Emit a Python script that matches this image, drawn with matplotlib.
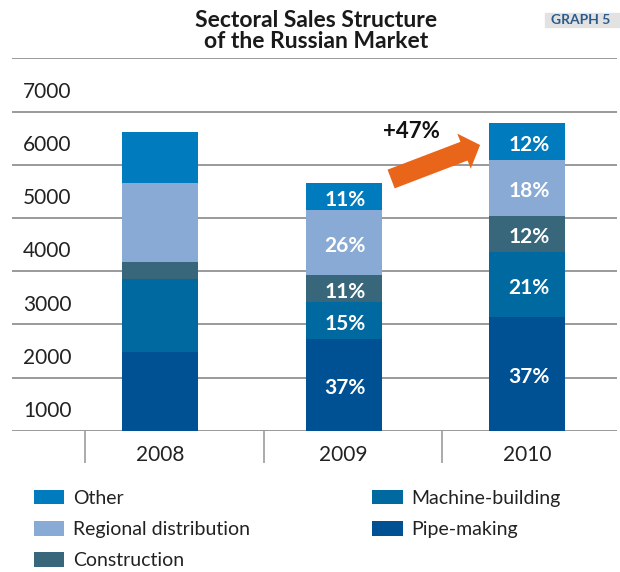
import numpy as np
import matplotlib
matplotlib.use("Agg")
import matplotlib.pyplot as plt
from matplotlib.patches import Rectangle
from matplotlib.transforms import blended_transform_factory

plt.rcParams['font.family'] = ['Lato', 'DejaVu Sans']

# sales by sector, thousand tonnes
years = ['2008', '2009', '2010']
sectors = ['Pipe-making', 'Machine-building', 'Construction', 'Regional distribution', 'Other']
pipe_making = [1480, 1720, 2140]
machine_building = [1370, 700, 1210]
construction = [320, 510, 690]
regional = [1485, 1210, 1050]
other = [965, 515, 695]
# share labels shown inside the bars (2008 has none)
share_labels = {
    1: ['37%', '15%', '11%', '26%', '11%'],
    2: ['37%', '21%', '12%', '18%', '12%'],
}
growth_label = '+47%'
y_ticks = [1000, 2000, 3000, 4000, 5000, 6000, 7000]

colors = ['#005094', '#006aa0', '#38667a', '#89aad4', '#007bbd']

fig = plt.figure(figsize=(6.2, 5.72), dpi=100)
ax = fig.add_axes([12 / 620, 1 - 430.7 / 572, 605 / 620, (430.7 - 58.3) / 572])

x = np.arange(len(years))
stack = [pipe_making, machine_building, construction, regional, other]
bottom = np.zeros(len(years))
bars = []
for vals, col, name in zip(stack, colors, sectors):
    b = ax.bar(x, vals, width=0.414, bottom=bottom, color=col, label=name, zorder=3)
    bars.append((b, np.array(vals), bottom.copy()))
    bottom += vals

for i, labels in share_labels.items():
    for (b, vals, bot), lab in zip(bars, labels):
        ax.text(x[i] + 0.01, bot[i] + vals[i] / 2 - 60, lab, ha='center', va='center',
                color='white', fontsize=15, fontweight='bold', zorder=4)

ax.set_xlim(-0.807, 2.49)
ax.set_ylim(0, 7000)
ax.set_yticks([0] + y_ticks)
ax.yaxis.grid(True, color='#9a9a9a', linewidth=1.4, zorder=0)
ax.tick_params(left=False, bottom=False, labelleft=False, labelbottom=False)
for s in ax.spines.values():
    s.set_visible(False)

# value labels sit in the band below each gridline
tr = blended_transform_factory(ax.transAxes, ax.transData)
for v in y_ticks:
    ax.text(0.018, v - 630, f'{v}', transform=tr, ha='left', va='center',
            fontsize=15, color='#222222')

# category labels and dividers under the baseline
for xi, yr in zip(x, years):
    ax.text(xi, -450, yr, ha='center', va='center', fontsize=15, color='#222222',
            clip_on=False)
for xd in [-0.41, 0.567, 1.537]:
    ax.plot([xd, xd], [-30, -590], color='#aaaaaa', linewidth=1.4, clip_on=False)

# growth arrow between 2009 and 2010
ax.annotate('', xy=(1.744, 5370), xytext=(1.259, 4731),
            arrowprops=dict(arrowstyle='simple,head_length=0.62,head_width=1.35,tail_width=0.72',
                            mutation_scale=20, fc='#e8651a', ec='none',
                            shrinkA=0, shrinkB=0), zorder=5)
ax.text(1.37, 5620, growth_label, ha='center', va='center', fontsize=16,
        fontweight='bold', color='#111111')

fig.text(316 / 620, 1 - 31 / 572, 'Sectoral Sales Structure\nof the Russian Market',
         ha='center', va='center', fontsize=16.5, fontweight='bold', color='#1a1a1a',
         linespacing=1.05)

fig.patches.append(Rectangle((544.5 / 620, 1 - 26.7 / 572), 80 / 620, 14 / 572,
                             transform=fig.transFigure, color='#e2e2e2'))
fig.text(581 / 620, 1 - 19.7 / 572, 'GRAPH 5', ha='center', va='center',
         fontsize=10, fontweight='bold', color='#2b5b8c')

handles = [bars[4][0], bars[3][0], bars[2][0], bars[1][0], bars[0][0]]
names = ['Other', 'Regional distribution', 'Construction', 'Machine-building', 'Pipe-making']
fig.legend(handles, names, loc='upper left', bbox_to_anchor=(34 / 620, 1 - 490 / 572),
           ncol=2, frameon=False, fontsize=14, handlelength=1.55, handleheight=0.75,
           handletextpad=0.45, labelspacing=0.73, columnspacing=6.3, borderaxespad=0,
           borderpad=0, labelcolor='#222222')

fig.savefig('out.png', dpi=100)
